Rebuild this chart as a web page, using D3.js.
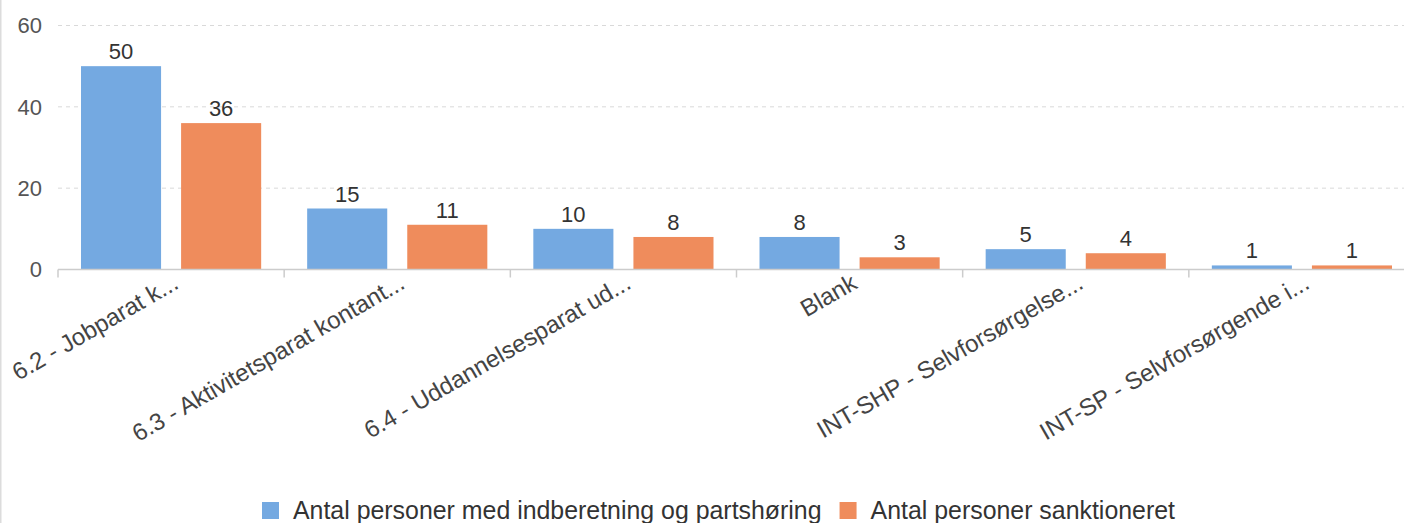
<!DOCTYPE html>
<html>
<head>
<meta charset="utf-8">
<script src="https://cdn.jsdelivr.net/npm/d3@7"></script>
<style>
  html, body { margin: 0; padding: 0; background: #fff; }
  svg { display: block; font-family: "Liberation Sans", Arial, sans-serif; }
</style>
</head>
<body>
<svg id="chart" width="1404" height="523"></svg>
<script>
const categories = [
  "6.2 - Jobparat k...",
  "6.3 - Aktivitetsparat kontant...",
  "6.4 - Uddannelsesparat ud...",
  "Blank",
  "INT-SHP - Selvforsørgelse...",
  "INT-SP - Selvforsørgende i..."
];
const seriesNames = [
  "Antal personer med indberetning og partshøring",
  "Antal personer sanktioneret"
];
const indberetning = [50, 15, 10, 8, 5, 1];
const sanktioneret = [36, 11, 8, 3, 4, 1];
const yTicks = [0, 20, 40, 60];
const colors = ["#74a9e1", "#ef8c5c"];

const seriesValues = [indberetning, sanktioneret];
const data = categories.map((c, i) => ({ cat: c, vals: seriesValues.map(s => s[i]) }));

const svg = d3.select("#chart");
const plotLeft = 58, plotRight = 1415, plotTop = 25.5, plotBottom = 269.5;

// left border
svg.append("line").attr("x1", 0.5).attr("x2", 0.5).attr("y1", 0).attr("y2", 523)
  .attr("stroke", "#dcdcdc").attr("stroke-width", 2);

const x0 = d3.scaleBand().domain(categories).range([plotLeft, plotRight]).paddingInner(0).paddingOuter(0);
const x1 = d3.scaleBand().domain([0, 1]).range([23, x0.bandwidth() - 23]).paddingInner(0.2).paddingOuter(0);
const y = d3.scaleLinear().domain([0, 60]).range([plotBottom, plotTop]);

// gridlines
svg.append("g").selectAll("line").data(yTicks.filter(t => t > 0)).join("line")
  .attr("x1", plotLeft).attr("x2", 1404)
  .attr("y1", d => y(d)).attr("y2", d => y(d))
  .attr("stroke", "#d9d9d9").attr("stroke-width", 1).attr("stroke-dasharray", "4,4");

// y labels
svg.append("g").selectAll("text").data(yTicks).join("text")
  .attr("x", 42).attr("y", d => y(d)).attr("dy", "0.36em")
  .attr("text-anchor", "end").attr("font-size", 22).attr("fill", "#555")
  .text(d => d);

// bars
const groups = svg.append("g").selectAll("g").data(data).join("g")
  .attr("transform", d => `translate(${x0(d.cat)},0)`);
groups.selectAll("rect").data(d => d.vals.map((v, i) => ({ v, i }))).join("rect")
  .attr("x", d => x1(d.i)).attr("width", x1.bandwidth())
  .attr("y", d => y(d.v)).attr("height", d => y(0) - y(d.v))
  .attr("fill", d => colors[d.i]);
groups.selectAll("text").data(d => d.vals.map((v, i) => ({ v, i }))).join("text")
  .attr("x", d => x1(d.i) + x1.bandwidth() / 2).attr("y", d => y(d.v) - 7)
  .attr("text-anchor", "middle").attr("font-size", 22).attr("fill", "#333")
  .text(d => d.v);

// x axis line & ticks
svg.append("line").attr("x1", plotLeft).attr("x2", 1404).attr("y1", plotBottom).attr("y2", plotBottom)
  .attr("stroke", "#cccccc").attr("stroke-width", 1.5);
const boundaries = categories.map(c => x0(c)).concat([plotRight]);
svg.append("g").selectAll("line").data(boundaries).join("line")
  .attr("x1", d => d).attr("x2", d => d).attr("y1", plotBottom).attr("y2", plotBottom + 8)
  .attr("stroke", "#cccccc").attr("stroke-width", 1.5);

// x labels
svg.append("g").selectAll("text").data(categories).join("text")
  .attr("transform", d => `translate(${x0(d) + x0.bandwidth() / 2 + 9},${plotBottom + 18}) rotate(-30)`)
  .attr("text-anchor", "end").attr("font-size", 24).attr("fill", "#444")
  .text(d => d);

// legend
const legend = svg.append("g");
let lx = 262;
seriesNames.forEach((name, i) => {
  legend.append("rect").attr("x", lx).attr("y", 502).attr("width", 17).attr("height", 17).attr("fill", colors[i]);
  const t = legend.append("text").attr("x", lx + 31).attr("y", 519)
    .attr("font-size", 24.9).attr("fill", "#333").text(name);
  lx += 31 + t.node().getComputedTextLength() + 18;
});
</script>
</body>
</html>
